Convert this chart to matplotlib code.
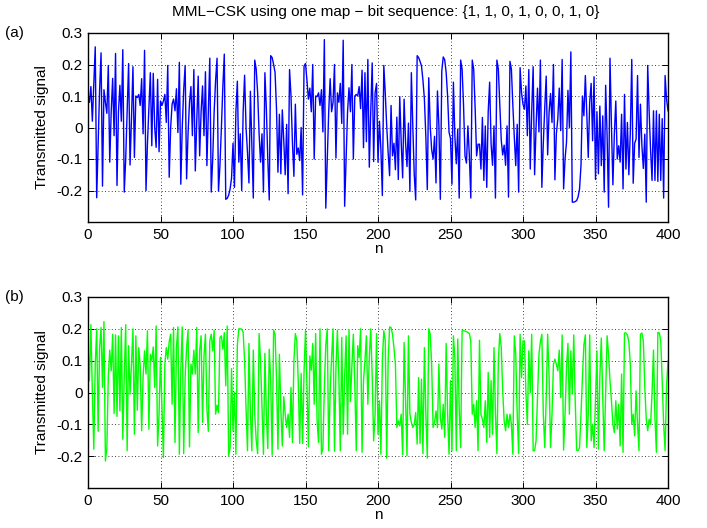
import numpy as np
import matplotlib
matplotlib.use('agg')
import matplotlib.pyplot as plt

plt.rcParams['font.family'] = ['Liberation Sans', 'DejaVu Sans']
plt.rcParams['font.size'] = 11

# (a) transmitted signal, n = 0..400
sig_a = [
    0.10, 0.08, 0.13, 0.02, 0.14, 0.256, -0.223, -0.05, 0.12, 0.237,
    -0.186, 0.12, 0.08, 0.045, 0.197, -0.11, 0.05, 0.156, -0.026, 0.235,
    -0.184, 0.05, 0.134, 0.02, 0.247, -0.205, -0.10, 0.05, 0.203, -0.119,
    0.03, 0.193, -0.095, 0.10, 0.095, 0.105, 0.07, 0.155, -0.02, 0.245,
    -0.20, -0.05, 0.06, 0.174, -0.058, 0.172, 0.0, -0.063, 0.153, -0.077,
    0.084, 0.07, 0.084, 0.105, 0.016, 0.197, -0.158, 0.0, 0.074, 0.09,
    0.053, 0.123, -0.016, 0.207, -0.18, 0.0, 0.12, 0.197, -0.163, -0.02,
    0.08, 0.13, -0.026, 0.184, -0.138, 0.02, 0.163, -0.09, 0.05, 0.132,
    -0.026, 0.177, -0.121, 0.05, 0.22, -0.205, -0.10, 0.05, 0.15, 0.22,
    -0.202, -0.12, 0.0, 0.13, 0.233, -0.228, -0.225, -0.215, -0.195, -0.16,
    -0.05, -0.19, 0.05, 0.147, -0.11, -0.02, -0.20, 0.05, 0.166, 0.0,
    -0.08, -0.176, 0.115, -0.05, -0.224, 0.214, 0.185, 0.11, -0.02, -0.11,
    -0.02, -0.205, 0.174, 0.06, -0.10, -0.23, 0.228, 0.222, 0.20, 0.175,
    0.06, -0.142, 0.042, -0.147, 0.056, -0.04, -0.15, 0.01, -0.21, 0.184,
    0.10, -0.05, -0.155, 0.074, -0.085, -0.065, -0.105, 0.0, -0.214, 0.195,
    0.203, 0.15, 0.09, 0.125, 0.05, 0.20, -0.10, 0.10, 0.098, 0.11,
    0.07, 0.12, -0.014, 0.279, -0.256, -0.10, 0.05, 0.155, 0.05, 0.08,
    0.20, -0.097, 0.11, 0.08, 0.14, 0.013, 0.277, -0.25, -0.10, 0.05,
    0.126, 0.05, 0.20, -0.10, 0.10, 0.105, 0.10, 0.13, 0.06, 0.182,
    -0.064, 0.174, -0.045, 0.216, -0.126, 0.05, 0.205, -0.108, 0.11, 0.14,
    -0.11, 0.02, -0.07, -0.216, 0.197, 0.11, 0.005, -0.08, -0.153, 0.07,
    -0.09, -0.05, -0.134, 0.033, -0.165, 0.098, -0.047, -0.16, 0.09, -0.047,
    -0.124, 0.014, -0.203, 0.174, 0.005, -0.15, -0.23, 0.228, 0.222, 0.21,
    0.195, 0.15, 0.09, -0.03, -0.197, 0.158, 0.005, -0.07, -0.10, -0.028,
    -0.176, 0.116, 0.005, -0.228, 0.18, 0.224, 0.215, 0.175, 0.10, -0.015,
    -0.035, -0.18, 0.144, -0.026, -0.115, -0.005, -0.224, 0.214, 0.185, 0.07,
    -0.09, -0.113, 0.005, -0.09, -0.224, 0.214, 0.185, 0.06, -0.09, -0.053,
    -0.053, -0.132, 0.032, -0.168, 0.005, -0.19, 0.05, 0.144, -0.053, -0.12,
    0.005, -0.224, 0.214, 0.185, 0.07, -0.04, -0.087, -0.056, -0.12, 0.005,
    -0.221, 0.21, 0.185, 0.07, -0.03, -0.121, 0.01, -0.205, 0.19, 0.11,
    0.074, 0.058, 0.132, -0.026, 0.184, -0.132, 0.05, 0.193, -0.15, 0.0,
    0.125, -0.014, 0.214, -0.19, -0.05, 0.063, 0.163, -0.087, 0.05, 0.108,
    0.016, 0.20, -0.166, -0.02, 0.027, 0.125, -0.01, 0.216, -0.195, -0.10,
    -0.047, 0.118, 0.0, 0.24, -0.237, -0.237, -0.235, -0.232, -0.22, -0.195,
    -0.12, 0.10, 0.037, 0.165, 0.042, -0.095, 0.081, 0.14, -0.042, 0.161,
    -0.165, 0.05, -0.147, 0.068, -0.121, 0.037, -0.205, 0.134, -0.026, -0.253,
    0.22, 0.005, -0.182, -0.02, 0.084, -0.10, -0.058, -0.11, 0.042, -0.195,
    0.105, -0.132, 0.016, -0.15, -0.016, 0.216, -0.177, -0.05, -0.037, 0.165,
    -0.095, 0.074, -0.058, -0.13, -0.021, -0.237, 0.197, 0.05, -0.074, -0.168,
    0.053, -0.168, 0.053, -0.171, 0.042, -0.168, 0.028, -0.224, 0.165, 0.09,
    0.053,
]

# (b) transmitted signal, n = 0..400
sig_b = [
    0.147, 0.037, 0.213, 0.0, -0.178, 0.089, 0.2, -0.122, 0.141, 0.204,
    0.016, 0.223, -0.215, -0.175, 0.05, 0.133, 0.068, 0.183, -0.066, 0.181,
    -0.075, 0.178, -0.058, 0.204, -0.147, 0.05, 0.213, -0.183, 0.147, -0.005,
    0.09, 0.2, -0.131, 0.178, -0.056, 0.141, 0.084, -0.12, 0.05, 0.131,
    0.058, 0.194, -0.115, 0.12, 0.1, 0.143, 0.016, 0.209, -0.168, -0.068,
    0.11, -0.05, -0.204, 0.09, 0.141, 0.105, 0.16, 0.183, -0.037, 0.204,
    -0.157, 0.141, 0.206, -0.194, 0.068, 0.206, -0.192, 0.05, 0.141, 0.196,
    -0.171, 0.089, 0.058, 0.133, 0.058, 0.204, -0.126, 0.131, 0.178, -0.094,
    0.115, 0.183, -0.05, -0.122, 0.162, 0.183, 0.131, 0.196, -0.068, -0.04,
    -0.063, 0.173, 0.178, 0.136, 0.188, 0.021, 0.209, -0.199, -0.173, 0.075,
    -0.12, 0.0, -0.194, 0.15, 0.2, 0.2, 0.199, 0.189, 0.1, -0.05,
    -0.183, 0.154, -0.068, -0.183, 0.133, -0.068, -0.15, -0.192, 0.185, 0.1,
    -0.05, -0.194, 0.123, -0.068, -0.176, 0.136, 0.037, -0.197, 0.196, 0.183,
    0.047, -0.178, 0.12, -0.05, -0.168, -0.013, -0.068, -0.11, -0.068, -0.141,
    0.016, -0.157, 0.1, 0.185, 0.162, 0.037, -0.16, 0.06, -0.16, 0.068,
    0.194, 0.026, -0.171, 0.115, 0.07, 0.154, -0.037, 0.185, -0.089, -0.157,
    0.2, -0.194, -0.175, 0.016, 0.15, 0.2, -0.183, 0.0, 0.11, 0.2,
    -0.185, 0.079, 0.196, 0.05, -0.183, 0.173, -0.131, 0.05, 0.178, -0.131,
    0.196, -0.028, 0.084, 0.183, 0.026, -0.183, 0.147, 0.11, 0.2, -0.188,
    0.037, 0.1, 0.178, -0.037, 0.11, 0.2, 0.05, -0.152, -0.068, 0.185,
    -0.131, -0.026, -0.194, 0.1, 0.194, 0.163, -0.206, 0.1, 0.206, 0.204,
    0.183, 0.141, 0.089, -0.11, -0.089, -0.105, -0.068, -0.196, 0.157, -0.016,
    -0.199, 0.178, -0.068, -0.094, -0.11, -0.1, -0.063, -0.162, 0.047, -0.16,
    0.042, -0.192, 0.141, -0.068, -0.206, 0.2, 0.183, 0.089, -0.11, -0.094,
    -0.058, -0.11, 0.089, -0.079, -0.115, -0.037, -0.141, 0.154, -0.068, -0.194,
    0.037, -0.183, 0.178, 0.11, -0.183, 0.168, -0.05, -0.173, 0.194, 0.194,
    0.193, 0.191, 0.189, 0.185, 0.162, -0.068, -0.037, -0.11, -0.026, -0.183,
    0.164, -0.068, -0.084, -0.11, -0.026, -0.157, 0.063, -0.141, 0.037, -0.131,
    0.141, -0.068, -0.192, 0.1, 0.185, 0.141, 0.005, -0.089, -0.12, -0.068,
    -0.11, -0.068, -0.1, -0.194, 0.178, 0.12, -0.068, -0.192, 0.183, 0.047,
    0.162, 0.162, 0.0, -0.1, 0.131, 0.0, 0.183, -0.183, -0.183, -0.152,
    -0.016, 0.12, 0.16, 0.183, -0.068, -0.173, -0.016, 0.183, 0.05, -0.173,
    -0.068, 0.089, 0.105, 0.089, 0.068, 0.133, -0.016, 0.181, -0.181, -0.068,
    0.079, 0.154, -0.068, 0.131, -0.005, 0.181, -0.026, -0.181, -0.183, -0.173,
    -0.068, 0.05, 0.15, 0.181, -0.173, -0.068, 0.181, -0.152, -0.1, -0.173,
    -0.02, 0.131, -0.178, 0.05, 0.171, -0.016, -0.183, 0.0, 0.178, 0.12,
    0.037, -0.026, -0.1, -0.126, -0.026, -0.115, -0.037, -0.168, 0.058, -0.188,
    0.187, 0.187, 0.18, 0.16, 0.089, -0.1, -0.068, -0.136, 0.005, -0.1,
    -0.183, 0.183, 0.187, 0.162, 0.016, -0.084, -0.12, -0.084, -0.1, 0.0,
    0.133, -0.079, -0.188, 0.189, 0.187, 0.162, 0.037, -0.1, -0.183, 0.02,
    0.1,
]

panel_tags = ['(a)', '(b)']
title_text = 'MML\u2212CSK using one map \u2212 bit sequence: {1, 1, 0, 1, 0, 0, 1, 0}'
x_ticks = [0, 50, 100, 150, 200, 250, 300, 350, 400]
y_ticks = [-0.2, -0.1, 0, 0.1, 0.2, 0.3]
y_ticklabels = ['-0.2', '-0.1', '0', '0.1', '0.2', '0.3']

fig = plt.figure(figsize=(7.07, 5.28), dpi=100)
ax_a = fig.add_axes([88/707, 1-222/528, 580/707, 189/528])
ax_b = fig.add_axes([88/707, 1-488/528, 580/707, 191/528])

for ax, sig, col in [(ax_a, sig_a, (0, 0, 1)), (ax_b, sig_b, (0, 1, 0))]:
    n = np.arange(len(sig))
    ax.plot(n, sig, color=col, lw=1.0)
    ax.set_xlim(0, 400)
    ax.set_ylim(-0.3, 0.3)
    ax.set_xticks(x_ticks)
    ax.set_yticks(y_ticks)
    ax.set_yticklabels(y_ticklabels)
    ax.grid(True, color='black', linestyle=(0, (1, 3)), linewidth=0.6)
    ax.tick_params(direction='in', top=True, right=True, length=4, width=0.7, pad=4)
    for s in ax.spines.values():
        s.set_linewidth(1.0)
    ax.set_xlabel('n', labelpad=0)
    ax.set_ylabel('Transmitted signal', labelpad=5)

fig.text(14/707, 1-33/528, panel_tags[0], ha='center', va='center')
fig.text(14/707, 1-297/528, panel_tags[1], ha='center', va='center')
fig.text(386/707, 1-12/528, title_text, ha='center', va='center')

fig.savefig('out.png', dpi=100)
